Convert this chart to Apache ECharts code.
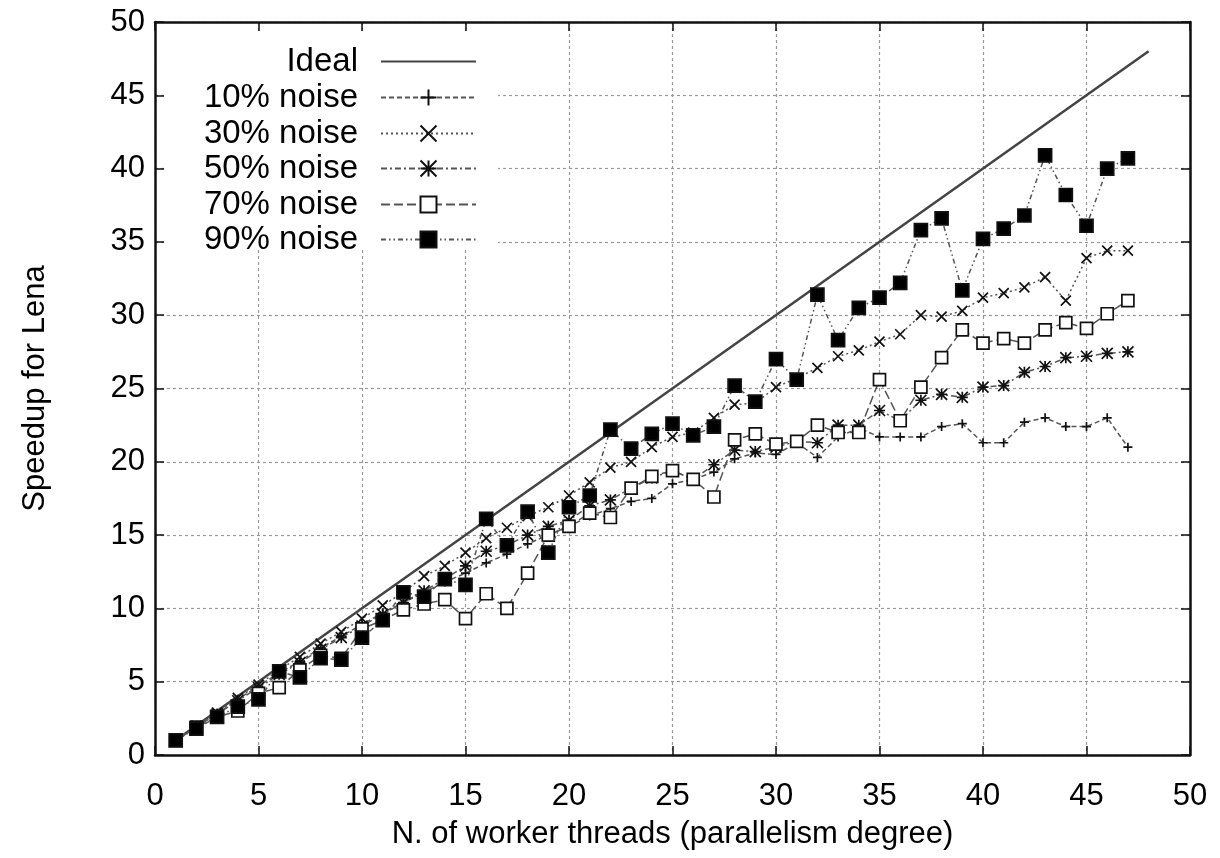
<!DOCTYPE html>
<html>
<head>
<meta charset="utf-8">
<script src="https://cdn.jsdelivr.net/npm/echarts@6/dist/echarts.min.js"></script>
<style>
html,body{margin:0;padding:0;background:#fff;}
#chart{width:1220px;height:858px;}
</style>
</head>
<body>
<div id="chart"></div>
<script>
// ---- data ----
const threads = [1,2,3,4,5,6,7,8,9,10,11,12,13,14,15,16,17,18,19,20,21,22,23,24,25,26,27,28,29,30,31,32,33,34,35,36,37,38,39,40,41,42,43,44,45,46,47];
const idealX = [1,48];
const idealY = [1,48];
const noise10 = [1.0,1.9,2.8,3.8,4.7,5.6,6.4,7.3,8.1,8.9,9.7,10.4,11.1,11.8,12.4,13.1,13.7,14.4,15.0,15.6,16.3,16.8,17.3,17.5,18.5,18.8,19.3,20.2,20.6,20.5,21.3,20.3,21.7,22.3,21.7,21.7,21.7,22.4,22.6,21.3,21.3,22.7,23.0,22.4,22.4,23.0,21.0];
const noise30 = [1.0,2.0,2.9,3.9,4.8,5.8,6.7,7.6,8.4,9.3,10.2,11.1,12.2,12.9,13.8,14.8,15.5,16.3,16.9,17.7,18.6,19.6,20.0,21.0,21.7,22.0,23.0,23.9,24.0,25.1,25.7,26.4,27.2,27.6,28.2,28.7,30.0,29.9,30.3,31.2,31.5,31.9,32.6,31.0,33.9,34.4,34.4];
const noise50 = [1.0,1.9,2.8,3.7,4.6,5.5,6.3,7.2,8.0,8.8,9.6,10.4,11.2,12.0,12.9,13.9,14.3,15.0,15.6,16.0,17.0,17.4,18.2,18.9,19.4,18.8,19.8,20.8,20.7,21.0,21.4,21.3,22.5,22.5,23.5,22.8,24.2,24.6,24.4,25.1,25.2,26.1,26.5,27.1,27.2,27.4,27.5];
const noise70 = [1.0,1.9,2.6,3.0,4.2,4.6,5.8,6.8,6.6,8.6,9.2,9.9,10.3,10.6,9.3,11.0,10.0,12.4,15.0,15.6,16.5,16.2,18.2,19.0,19.4,18.8,17.6,21.5,21.9,21.2,21.4,22.5,22.0,22.0,25.6,22.8,25.1,27.1,29.0,28.1,28.4,28.1,29.0,29.5,29.1,30.1,31.0];
const noise90 = [1.0,1.8,2.6,3.3,3.8,5.7,5.3,6.6,6.5,8.0,9.2,11.1,10.8,12.0,11.6,16.1,14.3,16.6,13.8,16.9,17.7,22.2,20.9,21.9,22.6,21.8,22.4,25.2,24.1,27.0,25.6,31.4,28.3,30.5,31.2,32.2,35.8,36.6,31.7,35.2,35.9,36.8,40.9,38.2,36.1,40.0,40.7];
const seriesNames = ['Ideal','10% noise','30% noise','50% noise','70% noise','90% noise'];
const xTicks = [0,5,10,15,20,25,30,35,40,45,50];
const yTicks = [0,5,10,15,20,25,30,35,40,45,50];

// ---- styling ----
const FONT = 'Liberation Sans';
const pair = (xs, ys) => xs.map((x, i) => [x, ys[i]]);
const plusPath = 'path://M5,0L5,10M0,5L10,5';
const xPath = 'path://M0,0L10,10M10,0L0,10';
const starPath = 'path://M0,0L10,10M10,0L0,10M5,0L5,10M0,5L10,5';
const lineCol = '#555';

function mkSeries(name, ys, symbol, size, dash, fill, z) {
  return {
    name: name, type: 'line', xAxisIndex: 0, yAxisIndex: 0,
    data: pair(threads, ys),
    symbol: symbol, symbolSize: size, showSymbol: true,
    lineStyle: {color: lineCol, width: 1.5, type: dash},
    itemStyle: {color: fill, borderColor: '#111', borderWidth: 1.7},
    emphasis: {disabled: true},
    animation: false, z: z
  };
}

const series = [
  {
    name: 'Ideal', type: 'line', xAxisIndex: 0, yAxisIndex: 0,
    data: pair(idealX, idealY), showSymbol: false, symbol: 'none',
    lineStyle: {color: '#444', width: 2.5, type: 'solid'},
    itemStyle: {color: '#444'},
    animation: false, z: 2
  },
  mkSeries('10% noise', noise10, plusPath, 9, [5,3], '#111', 3),
  mkSeries('30% noise', noise30, xPath, 10, [2,3], '#111', 4),
  mkSeries('50% noise', noise50, starPath, 11, [6,3,2,3], '#111', 5),
  mkSeries('70% noise', noise70, 'rect', 12, [9,4], '#fff', 6),
  mkSeries('90% noise', noise90, 'rect', 13, [5,3,1.5,3,1.5,3], '#000', 7)
];

const legendTops = [50, 86, 122, 157, 193, 228];
const legends = seriesNames.map((n, i) => {
  const lg = {
    data: [n], orient: 'horizontal', align: 'right',
    right: 738, top: legendTops[i] - 10,
    itemWidth: 95, itemHeight: 20,
    textStyle: {fontFamily: FONT, fontSize: 33, color: '#000', padding: [0, 18, 0, 0]},
    selectedMode: false, z: 4
  };
  if (i === 0) lg.itemStyle = {opacity: 0};
  return lg;
});

const axisCommon = {
  type: 'value', min: 0, max: 50, interval: 5,
  axisLine: {show: true, onZero: false, lineStyle: {color: '#111', width: 2.5}},
  axisTick: {show: true, inside: true, length: 9, lineStyle: {color: '#111', width: 1.5}}
};

const option = {
  backgroundColor: '#fff',
  animation: false,
  grid: {left: 155, right: 30, top: 22, bottom: 103, containLabel: false},
  graphic: [{
    type: 'rect', z: 1,
    shape: {x: 166, y: 32, width: 332, height: 216},
    style: {fill: '#fff'}
  }],
  legend: legends,
  xAxis: [
    Object.assign({}, axisCommon, {
      position: 'bottom',
      name: 'N. of worker threads (parallelism degree)',
      nameLocation: 'middle', nameGap: 64,
      nameTextStyle: {fontFamily: FONT, fontSize: 31, color: '#000'},
      axisLabel: {fontFamily: FONT, fontSize: 31, color: '#000', margin: 26,
        formatter: v => xTicks.includes(v) ? String(v) : ''},
      splitLine: {show: true, lineStyle: {color: '#999', width: 1.2, type: [3, 3]}}
    }),
    Object.assign({}, axisCommon, {
      position: 'top', axisLabel: {show: false}, splitLine: {show: false}
    })
  ],
  yAxis: [
    Object.assign({}, axisCommon, {
      position: 'left',
      name: 'Speedup for Lena',
      nameLocation: 'middle', nameGap: 104,
      nameTextStyle: {fontFamily: FONT, fontSize: 31, color: '#000'},
      axisLabel: {fontFamily: FONT, fontSize: 31, color: '#000', margin: 10,
        formatter: v => yTicks.includes(v) ? String(v) : ''},
      splitLine: {show: true, lineStyle: {color: '#999', width: 1.2, type: [3, 3]}}
    }),
    Object.assign({}, axisCommon, {
      position: 'right', axisLabel: {show: false}, splitLine: {show: false}
    })
  ],
  series: series
};

const chart = echarts.init(document.getElementById('chart'), null, {renderer: 'canvas'});
chart.setOption(option);
</script>
</body>
</html>
